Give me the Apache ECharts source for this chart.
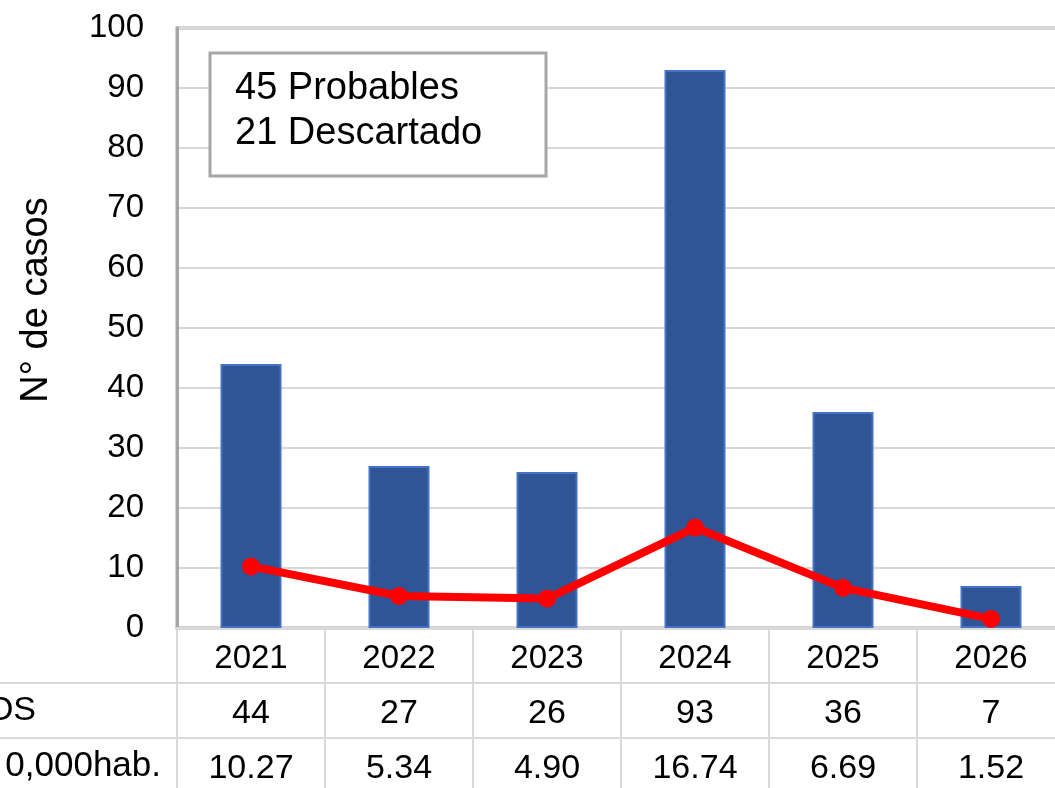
<!DOCTYPE html>
<html>
<head>
<meta charset="utf-8">
<script src="https://cdn.jsdelivr.net/npm/echarts@6/dist/echarts.min.js"></script>
<style>
html,body{margin:0;padding:0;background:#fff;}
#c{width:1055px;height:788px;}
</style>
</head>
<body>
<div id="c"></div>
<script>
const years = ['2021','2022','2023','2024','2025','2026'];
const casos = [44, 27, 26, 93, 36, 7];
const tasa = [10.27, 5.34, 4.90, 16.74, 6.69, 1.52];
const tasaLabels = ['10.27','5.34','4.90','16.74','6.69','1.52'];
const yTicks = {min: 0, max: 100, interval: 10};
const rowLabels = ['CASOS', 'Tasa x 100,000hab.'];
const noteLines = ['45 Probables', '21 Descartado'];

const FONT = '"Liberation Sans", Arial, sans-serif';
const FS = 33;
const chart = echarts.init(document.getElementById('c'));

function tableAxis(labels, offset) {
  return {
    type: 'category', data: labels, position: 'bottom', offset: offset,
    axisLine: {show: false}, axisTick: {show: false},
    axisLabel: {fontFamily: FONT, fontSize: 34, color: '#000', margin: 14, lineHeight: 33, interval: 0},
    gridIndex: 0
  };
}

chart.setOption({
  animation: false,
  textStyle: {fontFamily: FONT},
  grid: {left: 177, top: 28, width: 888, height: 600, outerBoundsMode: 'none', containLabel: false,
         show: true, borderColor: '#a6a6a6', borderWidth: 3, backgroundColor: 'transparent'},
  xAxis: [
    {
      type: 'category', data: years, position: 'bottom',
      axisLine: {show: true, lineStyle: {color: '#d9d9d9', width: 3}},
      axisTick: {show: true, alignWithLabel: false, length: 160, lineStyle: {color: '#d9d9d9', width: 2}},
      axisLabel: {fontFamily: FONT, fontSize: FS, color: '#000', margin: 14, lineHeight: 33, interval: 0}
    },
    tableAxis(casos.map(String), 55),
    tableAxis(tasaLabels, 110)
  ],
  yAxis: {
    type: 'value', min: yTicks.min, max: yTicks.max, interval: yTicks.interval,
    name: 'N° de casos', nameLocation: 'middle', nameGap: 121, nameRotate: 90,
    nameTextStyle: {fontFamily: FONT, fontSize: 38, color: '#000', padding: [0, 0, 0, 56]},
    axisLine: {show: true, lineStyle: {color: '#a6a6a6', width: 3}},
    axisTick: {show: false},
    axisLabel: {fontFamily: FONT, fontSize: FS, color: '#000', margin: 33},
    splitLine: {lineStyle: {color: '#d9d9d9', width: 2}}
  },
  series: [
    {
      type: 'bar', data: casos, barWidth: 61,
      itemStyle: {color: '#2F5597', borderColor: '#4472C4', borderWidth: 2}
    },
    {
      type: 'line', data: tasa, symbol: 'circle', symbolSize: 18,
      lineStyle: {color: '#FF0000', width: 8},
      itemStyle: {color: '#FF0000'}, z: 5
    }
  ],
  graphic: [
    {type: 'line', shape: {x1: 0, y1: 683, x2: 1055, y2: 683}, style: {stroke: '#d9d9d9', lineWidth: 2}},
    {type: 'line', shape: {x1: 0, y1: 738, x2: 1055, y2: 738}, style: {stroke: '#d9d9d9', lineWidth: 2}},
    {type: 'line', shape: {x1: 177, y1: 628, x2: 177, y2: 788}, style: {stroke: '#d9d9d9', lineWidth: 2}},
    {type: 'text', x: 36, y: 711, style: {text: rowLabels[0], font: '34px ' + FONT, fill: '#000', align: 'right', verticalAlign: 'middle'}},
    {type: 'text', x: 161, y: 766, style: {text: rowLabels[1], font: '35px ' + FONT, fill: '#000', align: 'right', verticalAlign: 'middle'}},
    {type: 'rect', shape: {x: 0, y: 741, width: 5, height: 47}, style: {fill: '#fff'}, z: 3},
    {type: 'rect', shape: {x: 210, y: 53, width: 336, height: 123}, style: {fill: '#fff', stroke: '#a6a6a6', lineWidth: 3}, z: 10},
    {type: 'text', x: 235, y: 89, z: 11, style: {text: noteLines[0], font: '38px ' + FONT, fill: '#000', verticalAlign: 'middle'}},
    {type: 'text', x: 235, y: 134, z: 11, style: {text: noteLines[1], font: '38px ' + FONT, fill: '#000', verticalAlign: 'middle'}}
  ]
});
</script>
</body>
</html>
